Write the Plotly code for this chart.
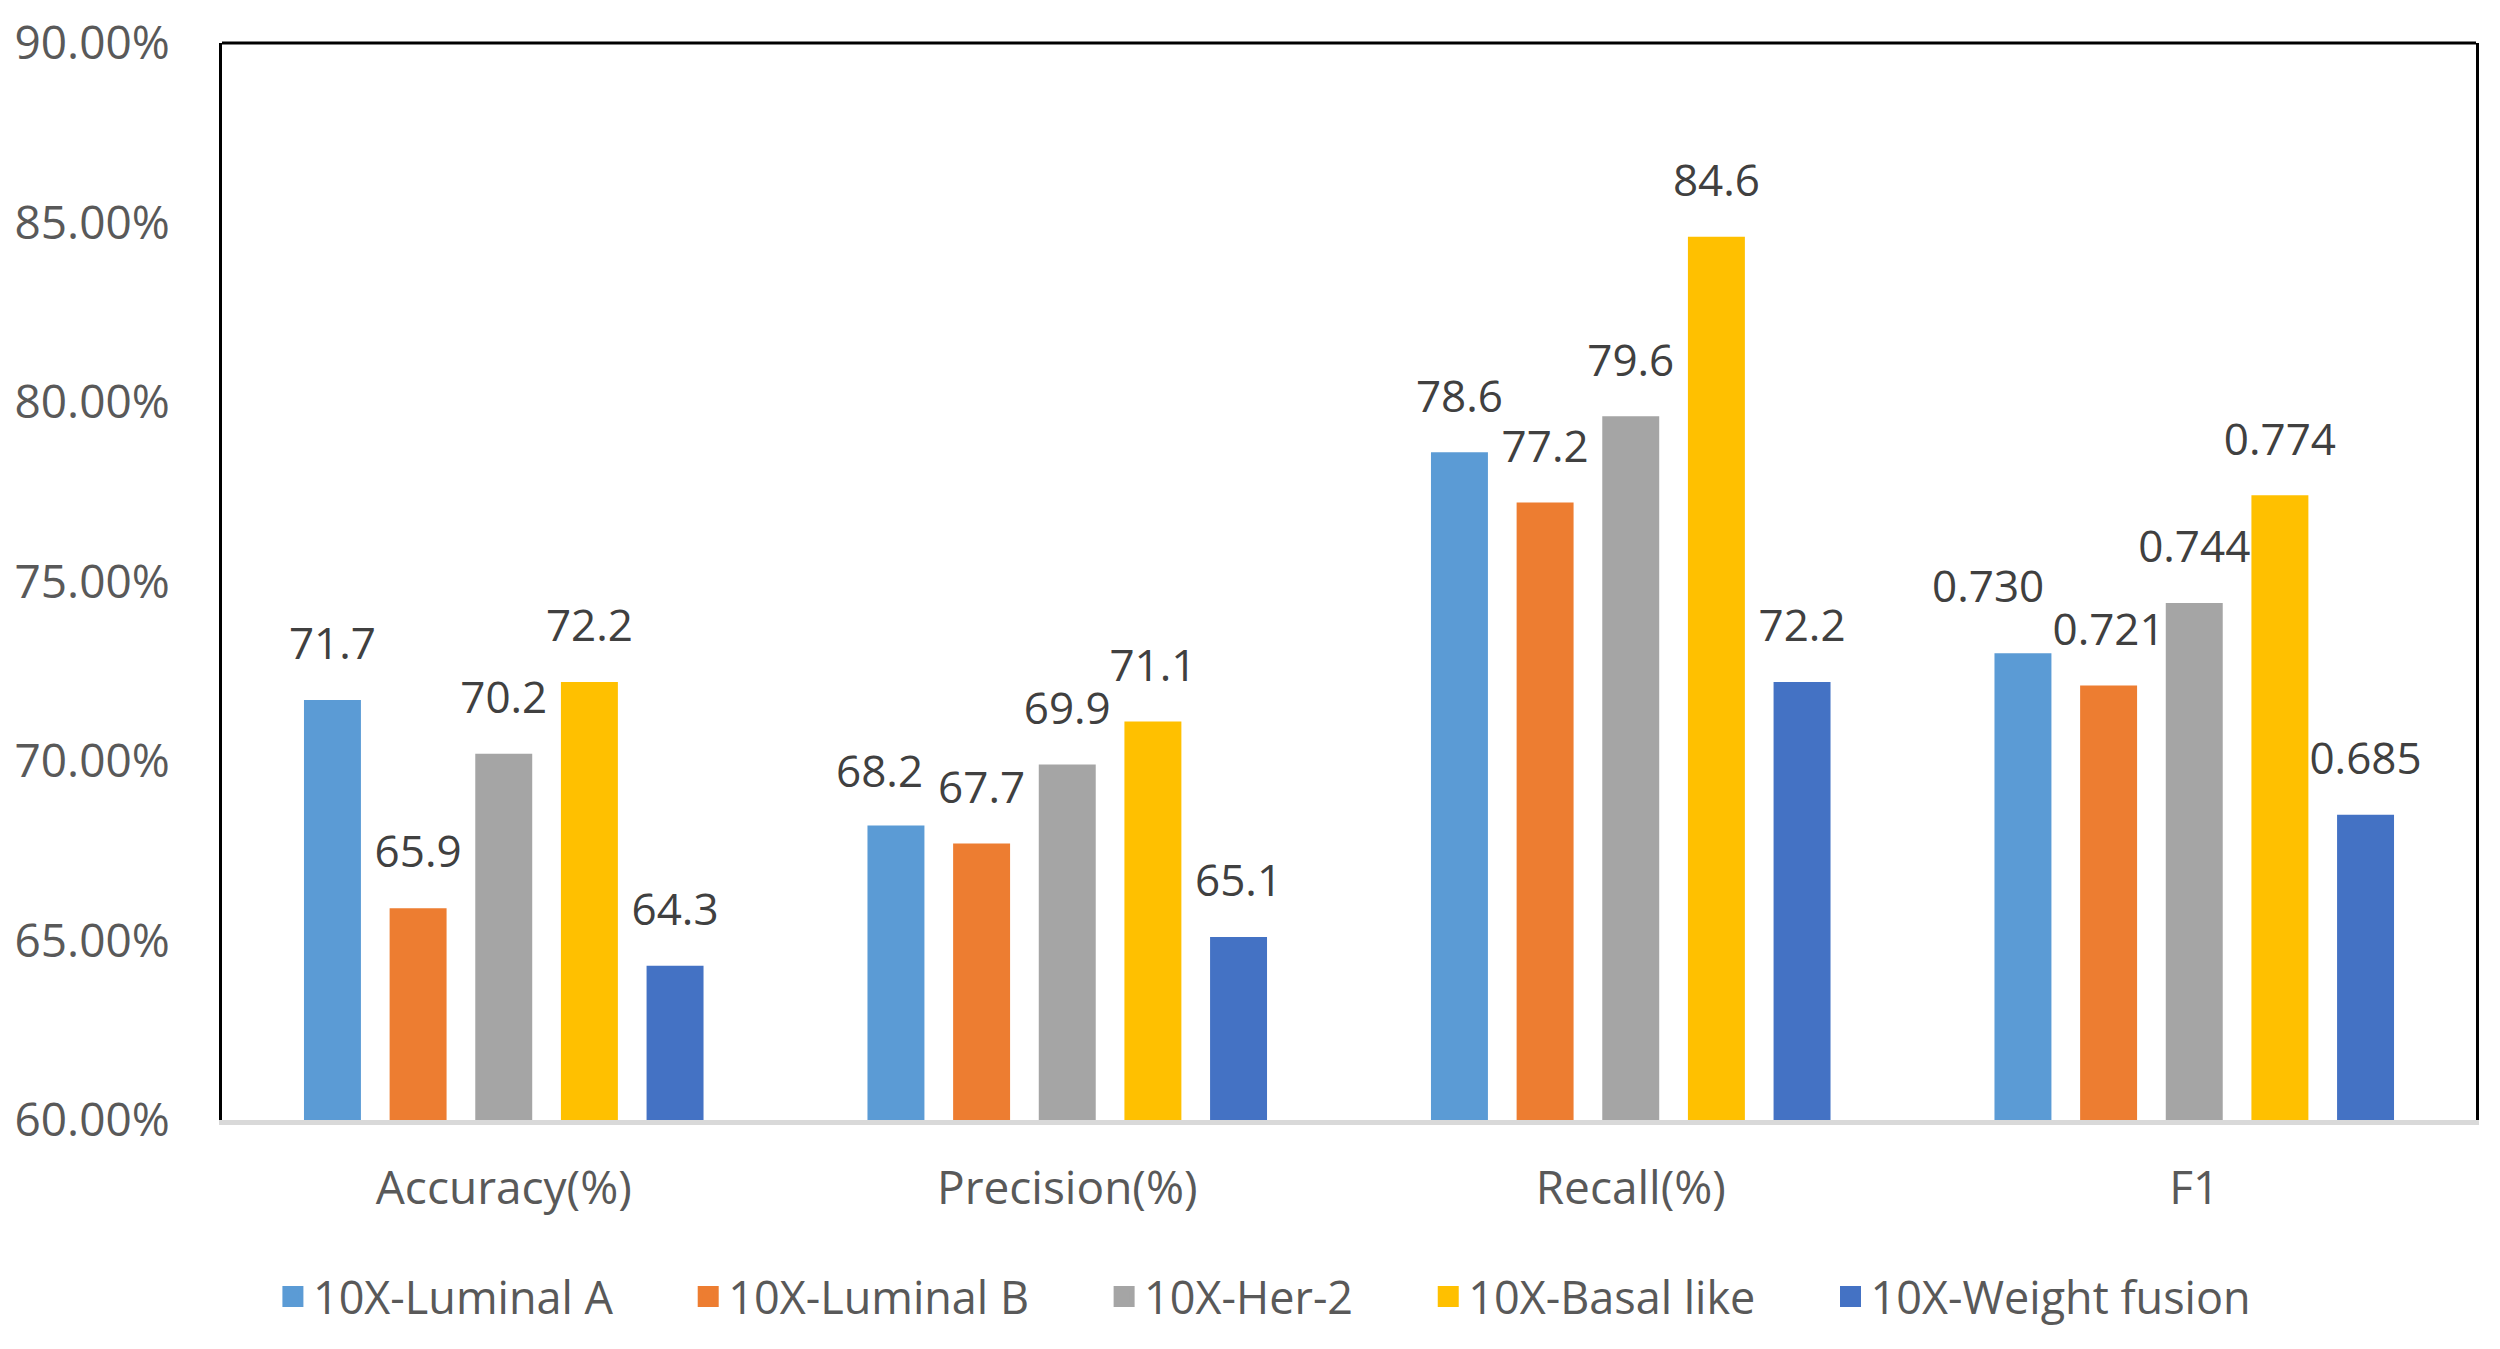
import plotly.graph_objects as go

# metric categories on the x axis
categories = ["Accuracy(%)", "Precision(%)", "Recall(%)", "F1"]

# one list per model: accuracy, precision, recall (percent) and F1 (0-1)
luminal_a = [71.7, 68.2, 78.6, 0.730]
luminal_b = [65.9, 67.7, 77.2, 0.721]
her_2 = [70.2, 69.9, 79.6, 0.744]
basal_like = [72.2, 71.1, 84.6, 0.774]
weight_fusion = [64.3, 65.1, 72.2, 0.685]

series_names = ["10X-Luminal A", "10X-Luminal B", "10X-Her-2",
                "10X-Basal like", "10X-Weight fusion"]
series_values = [luminal_a, luminal_b, her_2, basal_like, weight_fusion]
colors = ["#5B9BD5", "#ED7D31", "#A5A5A5", "#FFC000", "#4472C4"]

FONT = "Open Sans"
NBSP = "\u00a0"

# layout numbers (px)
W, H = 2492, 1341
ML, MR, MT, MB = 214, 24, 35, 229
BARGAP = 0.24

# labels that were moved by hand in the original: (series, category) -> (dx, dy) px
nudged = {(0, 1): (-16, 56), (0, 3): (-35, 68)}


def to_axis(vals):
    # F1 is plotted on the same percent axis (0.730 -> 73.0)
    return [v * 100 if c == "F1" else v for v, c in zip(vals, categories)]


def to_text(vals):
    return ["%.3f" % v if c == "F1" else "%.1f" % v for v, c in zip(vals, categories)]


fig = go.Figure()

for name, vals, col in zip(series_names, series_values, colors):
    fig.add_trace(go.Bar(
        x=categories,
        y=to_axis(vals),
        name=name,
        marker=dict(color=col, line=dict(width=0)),
        offsetgroup=name,
        showlegend=False,
    ))

# legend entries with bigger square swatches
for name, col in zip(series_names, colors):
    fig.add_trace(go.Scatter(
        x=[None], y=[None],
        mode="markers",
        name=name + NBSP * 6,
        marker=dict(symbol="square", size=16, color=col, line=dict(color=col, width=5)),
        offsetgroup=name,
    ))

# data labels, grouped the same way as the bars
annotations = []
n = len(series_names)
slot = (W - ML - MR) / len(categories) * (1 - BARGAP) / n
for i, (name, vals) in enumerate(zip(series_names, series_values)):
    text = to_text(vals)
    yv = to_axis(vals)
    for j in range(len(vals)):
        if (i, j) in nudged:
            dx, dy = nudged[(i, j)]
            annotations.append(dict(
                x=categories[j], y=yv[j], xref="x", yref="y",
                text=text[j], showarrow=False,
                xshift=(i - (n - 1) / 2) * slot + dx, yshift=dy,
                yanchor="middle",
                font=dict(family=FONT, size=44, color="#404040"),
            ))
            text[j] = ""
    fig.add_trace(go.Scatter(
        x=categories,
        y=yv,
        mode="markers+text",
        text=text,
        textposition="top center",
        textfont=dict(family=FONT, size=44, color="#404040"),
        marker=dict(size=46, opacity=0, line=dict(width=0)),
        offsetgroup=name,
        showlegend=False,
        hoverinfo="skip",
        cliponaxis=False,
    ))

fig.update_layout(
    width=W,
    height=H,
    barmode="group",
    scattermode="group",
    bargap=BARGAP,
    bargroupgap=0.335,
    scattergap=BARGAP,
    plot_bgcolor="white",
    paper_bgcolor="white",
    margin=dict(l=ML, r=MR, t=MT, b=MB, autoexpand=False),
    font=dict(family=FONT, size=44, color="#595959"),
    legend=dict(
        orientation="h",
        x=0.478, xanchor="center",
        y=-0.164, yanchor="middle",
        font=dict(family=FONT, size=45, color="#595959"),
        traceorder="normal",
        itemsizing="trace",
    ),
    annotations=annotations,
    shapes=[dict(type="line", xref="paper", yref="paper", x0=0, x1=1, y0=1, y1=1,
                 line=dict(color="black", width=3))],
)

fig.update_yaxes(
    range=[60, 90],
    dtick=5,
    tickformat=".2f",
    ticksuffix="%",
    showgrid=False,
    zeroline=False,
    showline=True,
    mirror=True,
    linecolor="black",
    linewidth=3,
    ticks="outside",
    ticklen=0,
    ticklabelstandoff=40,
    automargin=False,
    tickfont=dict(family=FONT, size=46, color="#595959"),
)

fig.update_xaxes(
    showgrid=False,
    showline=True,
    linecolor="#D9D9D9",
    linewidth=5,
    ticks="outside",
    ticklen=0,
    ticklabelstandoff=24,
    automargin=False,
    tickfont=dict(family=FONT, size=46, color="#595959"),
)

fig.write_html("out.html")
